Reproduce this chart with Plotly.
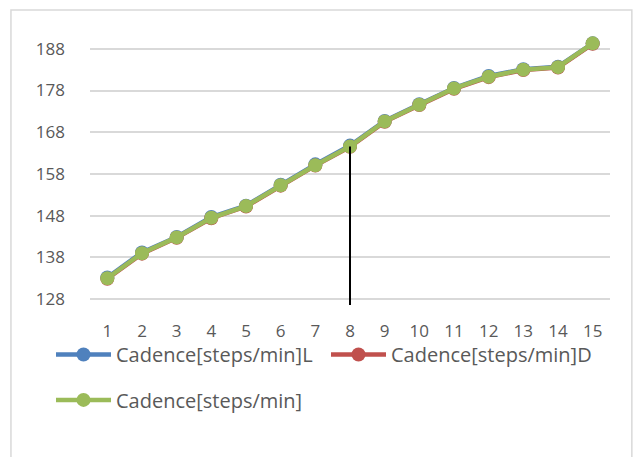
import plotly.graph_objects as go

# cadence per trial
trials = list(range(1, 16))
cadence_l = [133.2, 139.2, 142.9, 147.7, 150.4, 155.4, 160.3, 164.8, 170.7, 174.7, 178.6, 181.5, 183.1, 183.7, 189.3]
cadence_d = [132.9, 138.9, 142.7, 147.4, 150.2, 155.2, 160.0, 164.5, 170.5, 174.5, 178.4, 181.2, 182.9, 183.5, 189.2]
cadence = [133.0, 139.0, 142.8, 147.5, 150.3, 155.3, 160.1, 164.6, 170.6, 174.6, 178.5, 181.3, 183.0, 183.6, 189.3]
tick_vals = [128, 138, 148, 158, 168, 178, 188]
marker_trial = 8
y_floor = 126.6

series = [
    ("Cadence[steps/min]L", cadence_l, "#4F81BD", "legend"),
    ("Cadence[steps/min]D", cadence_d, "#C0504D", "legend"),
    ("Cadence[steps/min]", cadence, "#9BBB59", "legend2"),
]

fig = go.Figure()
for name, vals, color, leg in series:
    fig.add_trace(go.Scatter(
        x=trials, y=vals, name=name, mode="lines+markers",
        line=dict(color=color, width=4.5),
        marker=dict(color=color, size=14),
        legend=leg,
    ))

# vertical marker line at trial 8
fig.add_trace(go.Scatter(
    x=[marker_trial, marker_trial], y=[y_floor, cadence[marker_trial - 1]],
    mode="lines", line=dict(color="black", width=2),
    showlegend=False, hoverinfo="skip",
))

leg_style = dict(
    orientation="h", xanchor="left", yanchor="middle",
    entrywidth=205, entrywidthmode="pixels", itemwidth=55,
    font=dict(size=20, color="#595959"), bgcolor="rgba(0,0,0,0)",
)

fig.update_layout(
    width=643, height=457,
    margin=dict(l=90, r=33, t=30, b=152),
    paper_bgcolor="white", plot_bgcolor="white",
    font=dict(family="Open Sans", color="#595959", size=17),
    legend=dict(x=-0.075, y=-0.18, **leg_style),
    legend2=dict(x=-0.075, y=-0.345, **leg_style),
    shapes=[dict(
        type="rect", xref="paper", yref="paper",
        x0=-0.152, x1=1.042, y0=-0.62, y1=1.073,
        line=dict(color="#D9D9D9", width=1.5),
    )],
)
fig.update_xaxes(
    range=[0.5, 15.5], tickmode="array", tickvals=trials,
    showgrid=False, zeroline=False, showline=False,
    ticks="", ticklabelstandoff=14,
)
fig.update_yaxes(
    range=[y_floor, 192.5], tickmode="array", tickvals=tick_vals,
    showgrid=True, gridcolor="#D9D9D9", gridwidth=1.5,
    zeroline=False, showline=False, ticks="", ticklabelstandoff=24,
)

fig.write_html("out.html", config={"displayModeBar": False},
               post_script="document.body.style.margin='0';")
